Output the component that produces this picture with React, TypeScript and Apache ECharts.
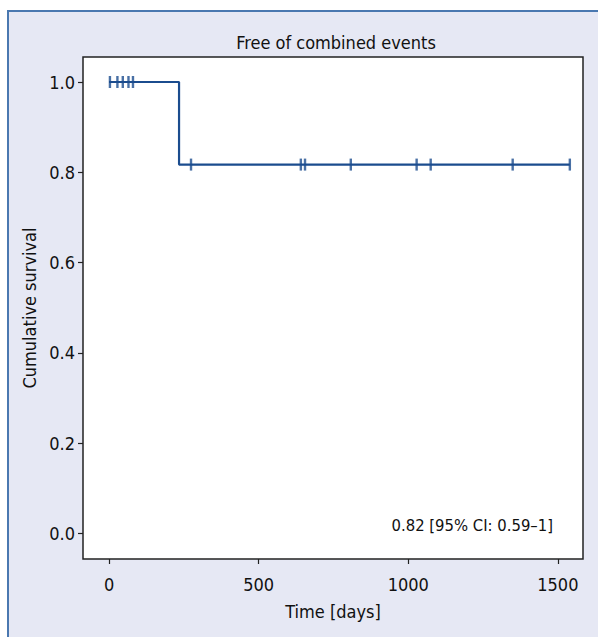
import React, { useEffect, useRef } from "react";
import * as echarts from "echarts";

const xTicks = [0, 500, 1000, 1500];
const yTicks = [0, 0.2, 0.4, 0.6, 0.8, 1.0];
const survivalCurve: [number, number][] = [
  [0, 1.0],
  [234, 1.0],
  [234, 0.817],
  [1540, 0.817],
];
const censorAtOne = [3, 28, 46, 65, 80];
const censorAfterDrop = [274, 641, 655, 808, 1028, 1075, 1349, 1540];
const dropValue = 0.817;
const titleText = "Free of combined events";
const xName = "Time [days]";
const yName = "Cumulative survival";
const annotation = "0.82 [95% CI: 0.59\u20131]";

const FONT = "'Liberation Sans Narrow', 'Arial Narrow', 'DejaVu Sans Condensed', sans-serif";
const LINE = "#1b4c8e";

export default function App() {
  const ref = useRef<HTMLDivElement>(null);
  useEffect(() => {
    if (!ref.current) return;
    const chart = echarts.init(ref.current, undefined, { renderer: "svg" });
    const censorData = [
      ...censorAtOne.map((d) => [d, 1.0]),
      ...censorAfterDrop.map((d) => [d, dropValue]),
    ];
    chart.setOption({
      animation: false,
      backgroundColor: "#ffffff",
      textStyle: { fontFamily: FONT },
      title: {
        text: titleText,
        left: 331,
        top: 37,
        textAlign: "center",
        textVerticalAlign: "middle",
        textStyle: { fontFamily: FONT, fontSize: 18, fontWeight: "normal", color: "#111" },
      },
      graphic: [
        {
          type: "rect",
          z: -100,
          silent: true,
          shape: { x: 8, y: 11, width: 640, height: 700 },
          style: { fill: "#e6e8f4", stroke: "#4a78b0", lineWidth: 2 },
        },
        {
          type: "text",
          z: 100,
          style: {
            text: annotation,
            x: 553,
            y: 525,
            textAlign: "right",
            textVerticalAlign: "middle",
            fontFamily: FONT,
            fontSize: 16.5,
            fill: "#111",
          },
        },
      ],
      grid: {
        left: 83,
        top: 57,
        width: 500,
        height: 502,
        show: true,
        backgroundColor: "#ffffff",
        borderColor: "#222",
        borderWidth: 1.5,
      },
      xAxis: {
        type: "value",
        min: -87,
        max: 1584,
        name: xName,
        nameLocation: "middle",
        nameGap: 43,
        nameTextStyle: { fontFamily: FONT, fontSize: 18, color: "#111" },
        splitLine: { show: false },
        axisLine: { show: false, onZero: false },
        axisTick: {
          show: true,
          length: 5,
          customValues: xTicks,
          lineStyle: { color: "#222", width: 1.2 },
        },
        axisLabel: {
          customValues: xTicks,
          margin: 16,
          fontFamily: FONT,
          fontSize: 18,
          color: "#111",
          formatter: (v: number) => String(v),
        },
      },
      yAxis: {
        type: "value",
        min: -0.057,
        max: 1.0554,
        name: yName,
        nameLocation: "middle",
        nameGap: 44,
        nameTextStyle: { fontFamily: FONT, fontSize: 18, color: "#111" },
        splitLine: { show: false },
        axisLine: { show: false, onZero: false },
        axisTick: {
          show: true,
          length: 5,
          customValues: yTicks,
          lineStyle: { color: "#222", width: 1.2 },
        },
        axisLabel: {
          customValues: yTicks,
          margin: 8,
          fontFamily: FONT,
          fontSize: 18,
          color: "#111",
          formatter: (v: number) => v.toFixed(1),
        },
      },
      series: [
        {
          type: "line",
          data: survivalCurve,
          symbol: "none",
          lineStyle: { color: LINE, width: 2.2 },
          z: 3,
        },
        {
          type: "scatter",
          data: censorData,
          symbol: "rect",
          symbolSize: [2.4, 12],
          itemStyle: { color: LINE },
          z: 4,
        },
      ],
    });
    return () => chart.dispose();
  }, []);
  return (
    <div
      ref={ref}
      style={{ position: "fixed", left: 0, top: 0, width: 598, height: 637 }}
    />
  );
}
